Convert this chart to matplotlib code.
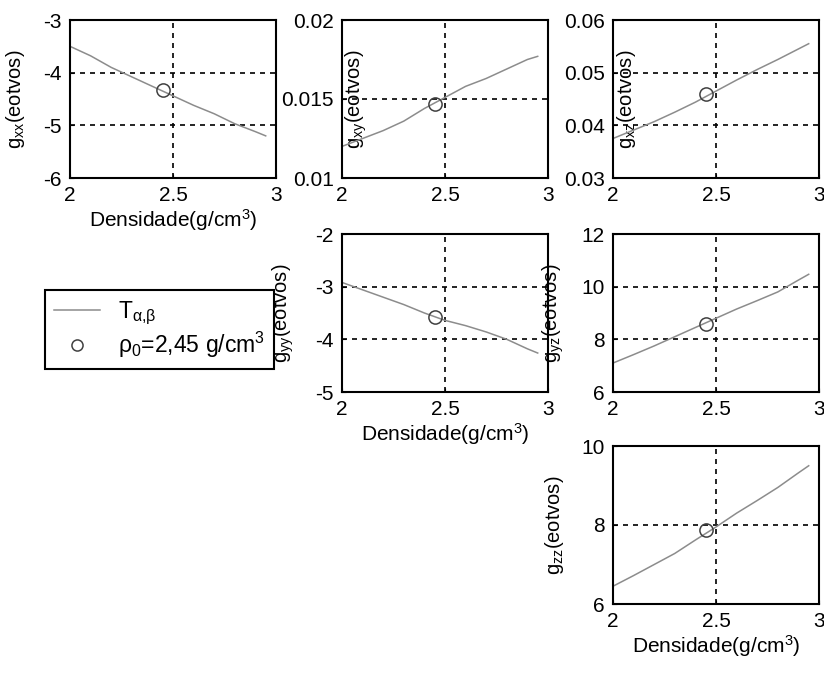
import matplotlib
matplotlib.use("Agg")
import matplotlib.pyplot as plt

plt.rcParams["font.family"] = ["Liberation Sans", "DejaVu Sans"]
plt.rcParams["mathtext.default"] = "regular"

# densidade (g/cm3)
dens = [2.0, 2.1, 2.2, 2.3, 2.4, 2.5, 2.6, 2.7, 2.8, 2.9, 2.95]

g_xx = [-3.50, -3.68, -3.90, -4.08, -4.26, -4.44, -4.62, -4.78, -4.97, -5.12, -5.20]
g_xy = [0.0120, 0.0125, 0.0130, 0.0136, 0.0144, 0.0151, 0.0158, 0.0163, 0.0169, 0.0175, 0.0177]
g_xz = [0.0375, 0.0391, 0.0407, 0.0425, 0.0444, 0.0465, 0.0486, 0.0506, 0.0525, 0.0545, 0.0555]
g_yy = [-2.92, -3.06, -3.20, -3.34, -3.50, -3.64, -3.74, -3.86, -4.00, -4.18, -4.26]
g_yz = [7.10, 7.42, 7.75, 8.10, 8.45, 8.80, 9.15, 9.47, 9.80, 10.25, 10.47]
g_zz = [6.45, 6.72, 7.00, 7.28, 7.62, 7.95, 8.30, 8.62, 8.95, 9.32, 9.50]

rho0 = 2.45
ref_vals = {"xx": -4.33, "xy": 0.0147, "xz": 0.0459,
            "yy": -3.57, "yz": 8.6, "zz": 7.87}

ylims = {"xx": (-6, -3), "xy": (0.01, 0.02), "xz": (0.03, 0.06),
         "yy": (-5, -2), "yz": (6, 12), "zz": (6, 10)}
yticks = {"xx": [-6, -5, -4, -3], "xy": [0.01, 0.015, 0.02],
          "xz": [0.03, 0.04, 0.05, 0.06], "yy": [-5, -4, -3, -2],
          "yz": [6, 8, 10, 12], "zz": [6, 8, 10]}
ytick_labels = {"xx": ["-6", "-5", "-4", "-3"], "xy": ["0.01", "0.015", "0.02"],
                "xz": ["0.03", "0.04", "0.05", "0.06"], "yy": ["-5", "-4", "-3", "-2"],
                "yz": ["6", "8", "10", "12"], "zz": ["6", "8", "10"]}
series = {"xx": g_xx, "xy": g_xy, "xz": g_xz, "yy": g_yy, "yz": g_yz, "zz": g_zz}

fig = plt.figure(figsize=(8.24, 6.75), dpi=100)

cols = [70 / 824, 342 / 824, 613 / 824]
rows = [1 - 178 / 675, 1 - 392 / 675, 1 - 604 / 675]
w = 206 / 824
h = 158 / 675

# (key, row, col, ylabel x position, show xlabel)
layout = [
    ("xx", 0, 0, -0.21, True),
    ("xy", 0, 1, 0.13, False),
    ("xz", 0, 2, 0.12, False),
    ("yy", 1, 1, -0.225, True),
    ("yz", 1, 2, -0.23, False),
    ("zz", 2, 2, -0.23, True),
]

line_color = "#8c8c8c"
handles = None

for key, r, c, ylx, show_xl in layout:
    ax = fig.add_axes([cols[c], rows[r], w, h])
    ln, = ax.plot(dens, series[key], color=line_color, lw=1.1)
    mk, = ax.plot([rho0], [ref_vals[key]], "o", mfc="none", mec="#404040",
                  ms=9.5, mew=1.1)
    handles = (ln, mk)
    ax.set_xlim(2, 3)
    ax.set_ylim(*ylims[key])
    ax.set_xticks([2, 2.5, 3])
    ax.set_xticklabels(["2", "2.5", "3"])
    ax.set_yticks(yticks[key])
    ax.set_yticklabels(ytick_labels[key])
    ax.tick_params(direction="in", length=3, labelsize=15, pad=6)
    ax.grid(True, ls=(0, (3, 3)), color="black", lw=1.2)
    for sp in ax.spines.values():
        sp.set_linewidth(1.5)
    ax.set_ylabel("g$_{%s}$(eotvos)" % key, fontsize=14.5)
    ax.yaxis.set_label_coords(ylx, 0.5)
    if show_xl:
        ax.set_xlabel("Densidade(g/cm$^3$)", fontsize=15, labelpad=1)

leg = fig.legend(handles, [r"T$_{\alpha{,}\beta}$", r"$\rho_0$=2,45 g/cm$^3$"],
                 loc="upper left", bbox_to_anchor=(45 / 824, 1 - 290 / 675),
                 bbox_transform=fig.transFigure, fontsize=16.5, fancybox=False,
                 edgecolor="black", framealpha=1, borderaxespad=0,
                 handlelength=2.0, handletextpad=0.8, labelspacing=0.15,
                 borderpad=0.4)
leg.get_frame().set_linewidth(1.5)
leg.legend_handles[1].set_markersize(8)

fig.savefig("out.png", dpi=100)
